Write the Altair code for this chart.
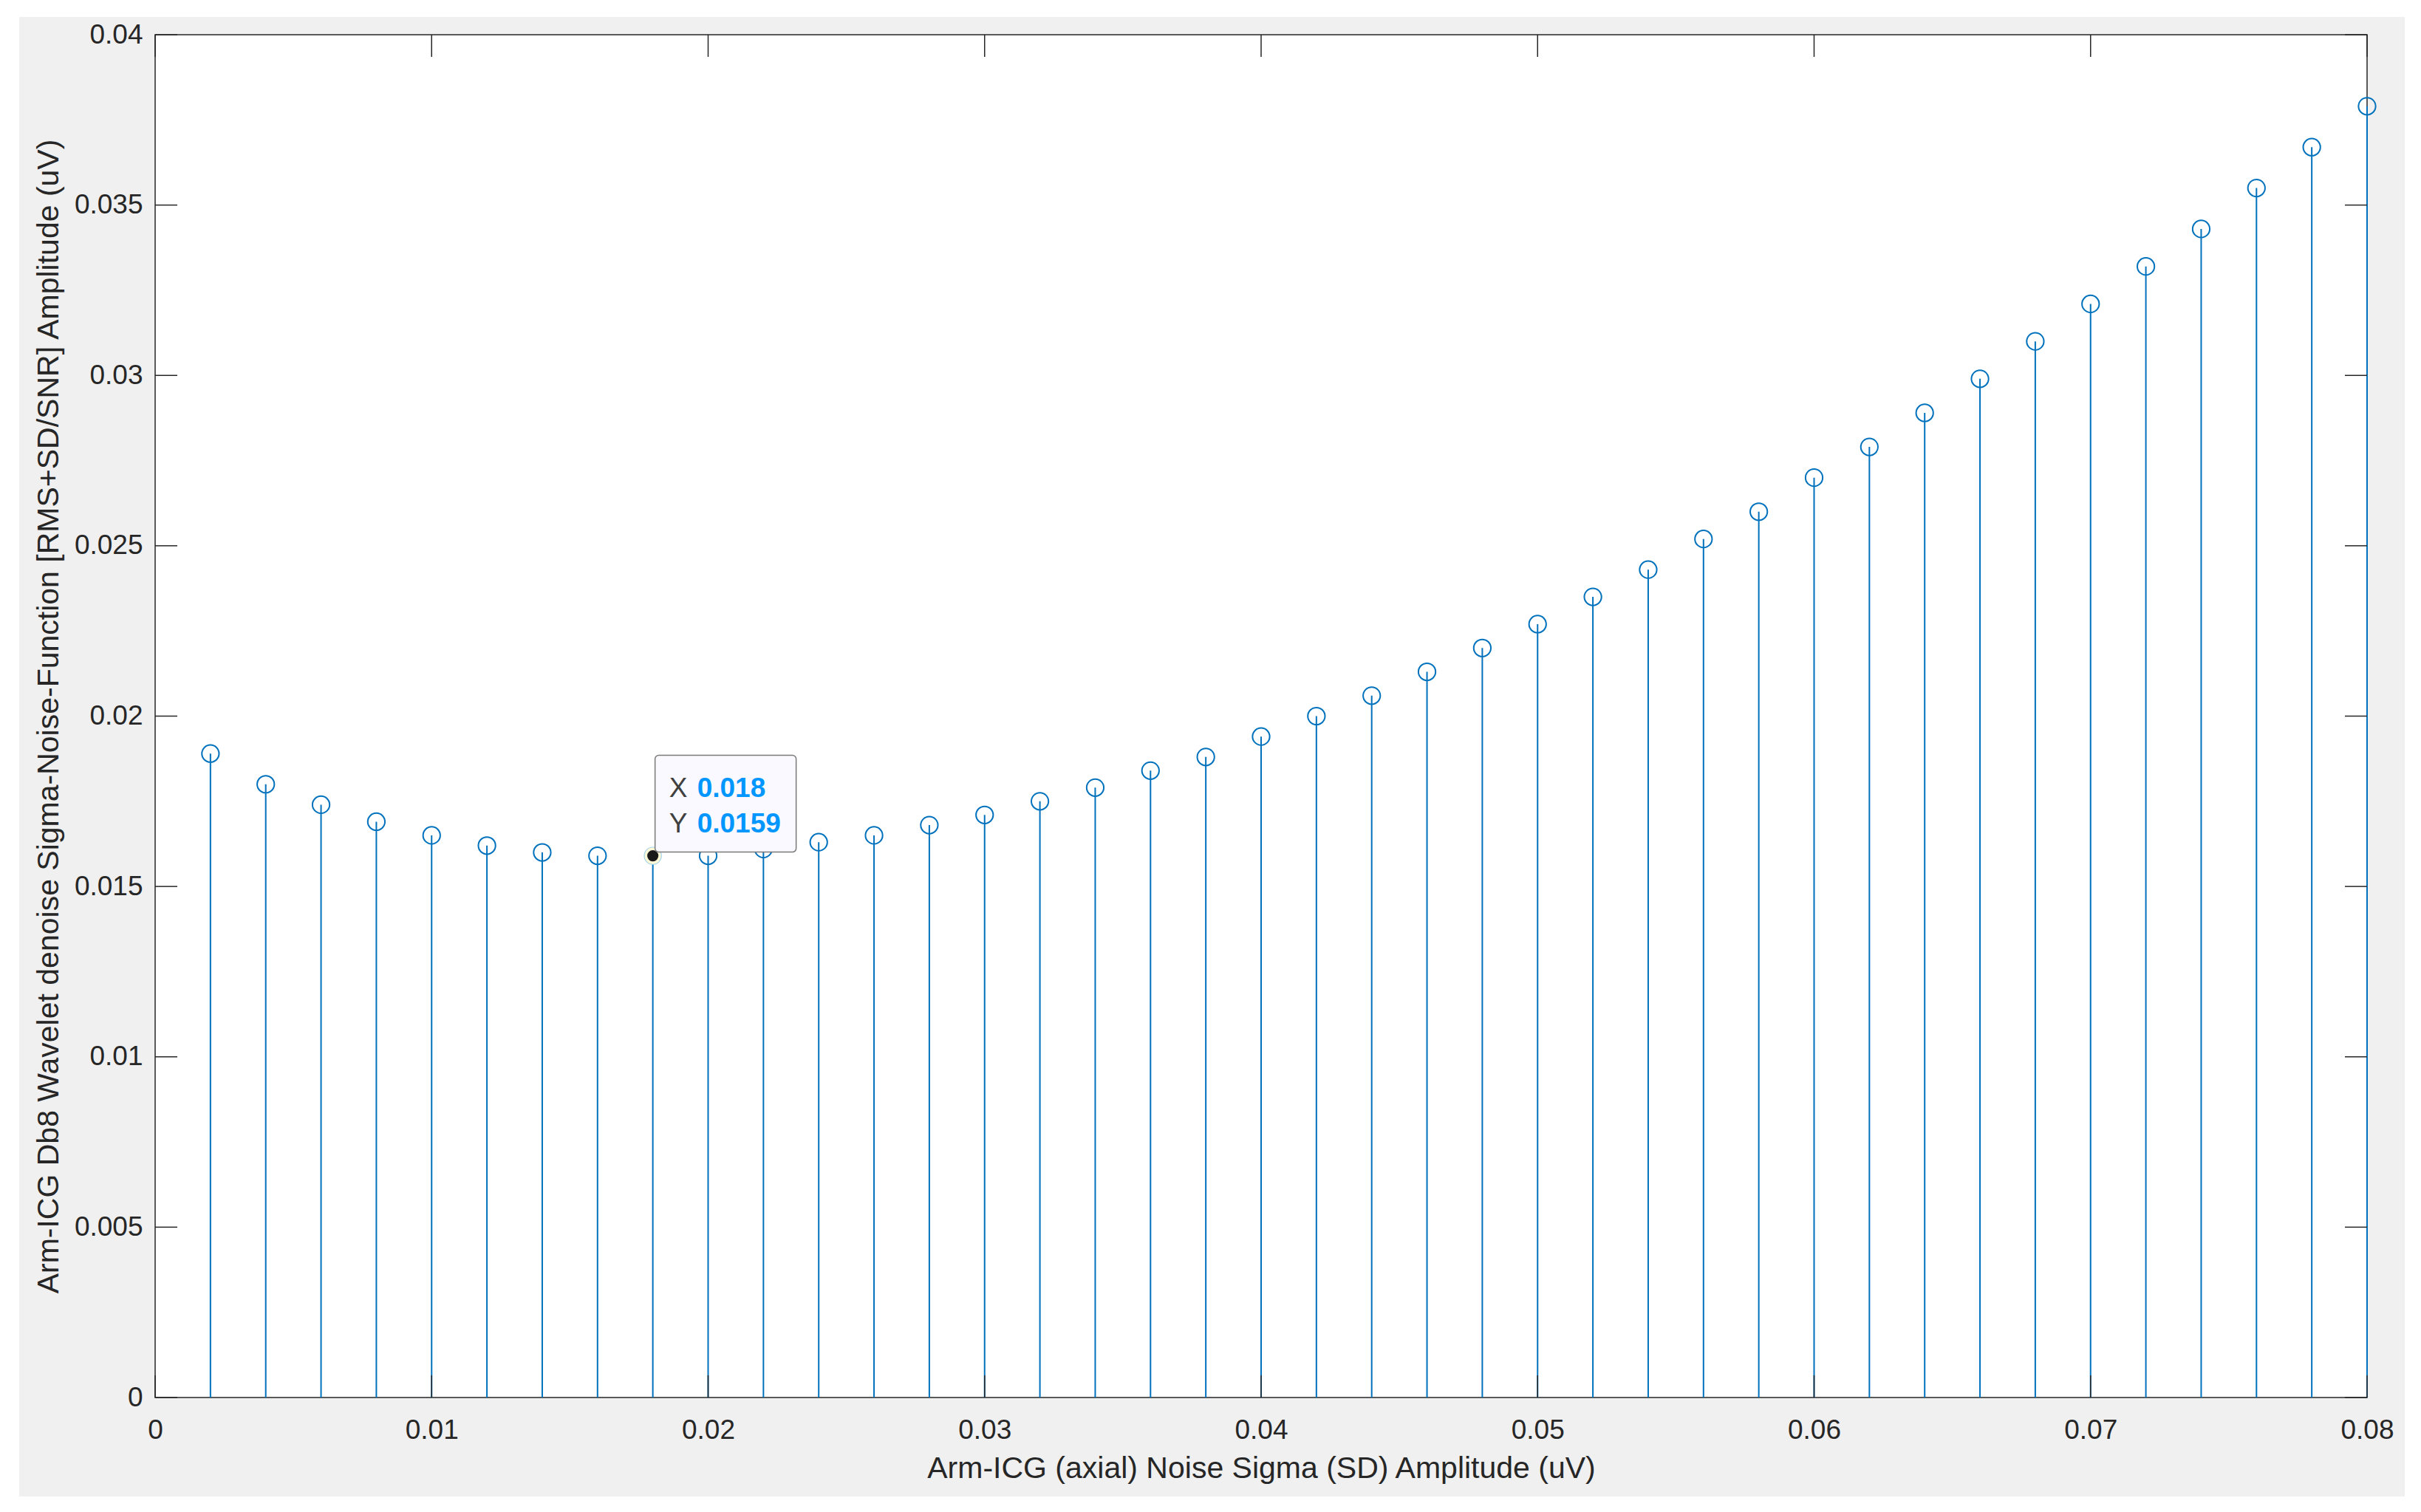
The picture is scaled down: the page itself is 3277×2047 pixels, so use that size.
import altair as alt
import pandas as pd

# ---- data ----
x_vals = [0.002, 0.004, 0.006, 0.008, 0.010, 0.012, 0.014, 0.016, 0.018, 0.020,
          0.022, 0.024, 0.026, 0.028, 0.030, 0.032, 0.034, 0.036, 0.038, 0.040,
          0.042, 0.044, 0.046, 0.048, 0.050, 0.052, 0.054, 0.056, 0.058, 0.060,
          0.062, 0.064, 0.066, 0.068, 0.070, 0.072, 0.074, 0.076, 0.078, 0.080]
y_vals = [0.0189, 0.0180, 0.0174, 0.0169, 0.0165, 0.0162, 0.0160, 0.0159, 0.0159, 0.0159,
          0.0161, 0.0163, 0.0165, 0.0168, 0.0171, 0.0175, 0.0179, 0.0184, 0.0188, 0.0194,
          0.0200, 0.0206, 0.0213, 0.0220, 0.0227, 0.0235, 0.0243, 0.0252, 0.0260, 0.0270,
          0.0279, 0.0289, 0.0299, 0.0310, 0.0321, 0.0332, 0.0343, 0.0355, 0.0367, 0.0379]
x_ticks = [0, 0.01, 0.02, 0.03, 0.04, 0.05, 0.06, 0.07, 0.08]
y_ticks = [0, 0.005, 0.01, 0.015, 0.02, 0.025, 0.03, 0.035, 0.04]
tip_index = 8
x_title = "Arm-ICG (axial) Noise Sigma (SD) Amplitude (uV)"
y_title = "Arm-ICG Db8 Wavelet denoise Sigma-Noise-Function [RMS+SD/SNR] Amplitude (uV)"

# ---- layout / style ----
W, H = 2994, 1845
FONT = "Liberation Sans"
AX = "#262626"
BLUE = "#0072BD"
TICK = 30

df = pd.DataFrame({"x": x_vals, "y": y_vals})
tip = pd.DataFrame({"x": [x_vals[tip_index]], "y": [y_vals[tip_index]]})
xt = pd.DataFrame({"x": x_ticks})
yt = pd.DataFrame({"y": y_ticks})
one = pd.DataFrame({"a": [0]})

xscale = alt.Scale(domain=[0, 0.08], nice=False, zero=False)
yscale = alt.Scale(domain=[0, 0.04], nice=False, zero=False)

xaxis = alt.Axis(values=x_ticks, labelExpr="format(datum.value, '~g')", title=x_title,
                 ticks=False, tickSize=0, domain=False, grid=False,
                 labelFont=FONT, labelFontSize=37, labelColor=AX,
                 labelPadding=55, labelBaseline="alphabetic",
                 labelFlush=False, labelOverlap=False,
                 titleFont=FONT, titleFontSize=41, titleFontWeight="normal", titleColor=AX,
                 titleX=W / 2, titleY=108, titleBaseline="alphabetic", titleAlign="center",
                 zindex=1)
yaxis = alt.Axis(values=y_ticks, labelExpr="format(datum.value, '~g')", title=y_title,
                 ticks=False, tickSize=0, domain=False, grid=False,
                 labelFont=FONT, labelFontSize=37, labelColor=AX,
                 labelPadding=17, labelBaseline="middle",
                 labelFlush=False, labelOverlap=False,
                 titleFont=FONT, titleFontSize=41, titleFontWeight="normal", titleColor=AX,
                 titleX=-132, titleY=H / 2, titleBaseline="alphabetic", titleAlign="center",
                 titleAngle=270, zindex=1)

# background panel (figure gray) and white plot area, border
gray = alt.Chart(one).mark_rect(color="#F0F0F0").encode(
    x=alt.value(-184), x2=alt.value(3045), y=alt.value(-24), y2=alt.value(1979))
white = alt.Chart(one).mark_rect(color="white").encode(
    x=alt.value(0), x2=alt.value(W), y=alt.value(0), y2=alt.value(H))
border = alt.Chart(one).mark_rect(filled=False, stroke=AX, strokeWidth=1.5).encode(
    x=alt.value(0), x2=alt.value(W), y=alt.value(0), y2=alt.value(H))

stems = alt.Chart(df).mark_rule(color=BLUE, strokeWidth=2).encode(
    x=alt.X("x:Q", scale=xscale, axis=xaxis),
    y=alt.Y("y:Q", scale=yscale, axis=yaxis),
    y2=alt.datum(0))

circles = alt.Chart(df).transform_filter(
    alt.datum.x != x_vals[tip_index]
).mark_point(shape="circle", filled=False, size=540, strokeWidth=2,
             color=BLUE, opacity=1).encode(
    x=alt.X("x:Q", scale=xscale), y=alt.Y("y:Q", scale=yscale))

tick_b = alt.Chart(xt).mark_rule(color=AX, strokeWidth=1.5).encode(
    x=alt.X("x:Q", scale=xscale), y=alt.value(H), y2=alt.value(H - TICK))
tick_t = alt.Chart(xt).mark_rule(color=AX, strokeWidth=1.5).encode(
    x=alt.X("x:Q", scale=xscale), y=alt.value(0), y2=alt.value(TICK))
tick_l = alt.Chart(yt).mark_rule(color=AX, strokeWidth=1.5).encode(
    y=alt.Y("y:Q", scale=yscale), x=alt.value(0), x2=alt.value(TICK))
tick_r = alt.Chart(yt).mark_rule(color=AX, strokeWidth=1.5).encode(
    y=alt.Y("y:Q", scale=yscale), x=alt.value(W - TICK), x2=alt.value(W))

# data tip
halo = alt.Chart(tip).mark_point(shape="circle", filled=True, size=540, fill="#FFF9D6",
                                 stroke="#9FD3EA", strokeWidth=1.2, opacity=1).encode(
    x=alt.X("x:Q", scale=xscale), y=alt.Y("y:Q", scale=yscale))
dot = alt.Chart(tip).mark_circle(size=230, color="#1A1A1A", opacity=1).encode(
    x=alt.X("x:Q", scale=xscale), y=alt.Y("y:Q", scale=yscale))
box = alt.Chart(tip).mark_rect(fill="#F9F9FF", stroke="#7A7A7A", strokeWidth=1.5,
                               cornerRadius=5, xOffset=3, x2Offset=194,
                               yOffset=-136, y2Offset=-5).encode(
    x=alt.X("x:Q", scale=xscale), x2=alt.X2("x"),
    y=alt.Y("y:Q", scale=yscale), y2=alt.Y2("y"))
lab_x = alt.Chart(tip).mark_text(text="X", align="left", baseline="alphabetic", dx=22, dy=-80,
                                 font=FONT, fontSize=37, color="#404040").encode(
    x=alt.X("x:Q", scale=xscale), y=alt.Y("y:Q", scale=yscale))
lab_y = alt.Chart(tip).mark_text(text="Y", align="left", baseline="alphabetic", dx=22, dy=-32,
                                 font=FONT, fontSize=37, color="#404040").encode(
    x=alt.X("x:Q", scale=xscale), y=alt.Y("y:Q", scale=yscale))
val_x = alt.Chart(tip).mark_text(align="left", baseline="alphabetic", dx=60, dy=-80,
                                 font=FONT, fontSize=37, fontWeight="bold", color="#0096FF").encode(
    x=alt.X("x:Q", scale=xscale), y=alt.Y("y:Q", scale=yscale),
    text=alt.Text("x:Q", format="~g"))
val_y = alt.Chart(tip).mark_text(align="left", baseline="alphabetic", dx=60, dy=-32,
                                 font=FONT, fontSize=37, fontWeight="bold", color="#0096FF").encode(
    x=alt.X("x:Q", scale=xscale), y=alt.Y("y:Q", scale=yscale),
    text=alt.Text("y:Q", format="~g"))

chart = alt.layer(
    gray, white, border, stems, circles, tick_b, tick_t, tick_l, tick_r,
    halo, dot, box, lab_x, lab_y, val_x, val_y
).properties(
    width=W, height=H, background="white",
    padding={"left": 202, "top": 39, "right": 51, "bottom": 134},
    autosize=alt.AutoSizeParams(type="none"),
).configure_view(stroke=None)

chart.save("out.html", embed_options={"renderer": "svg", "actions": False})
